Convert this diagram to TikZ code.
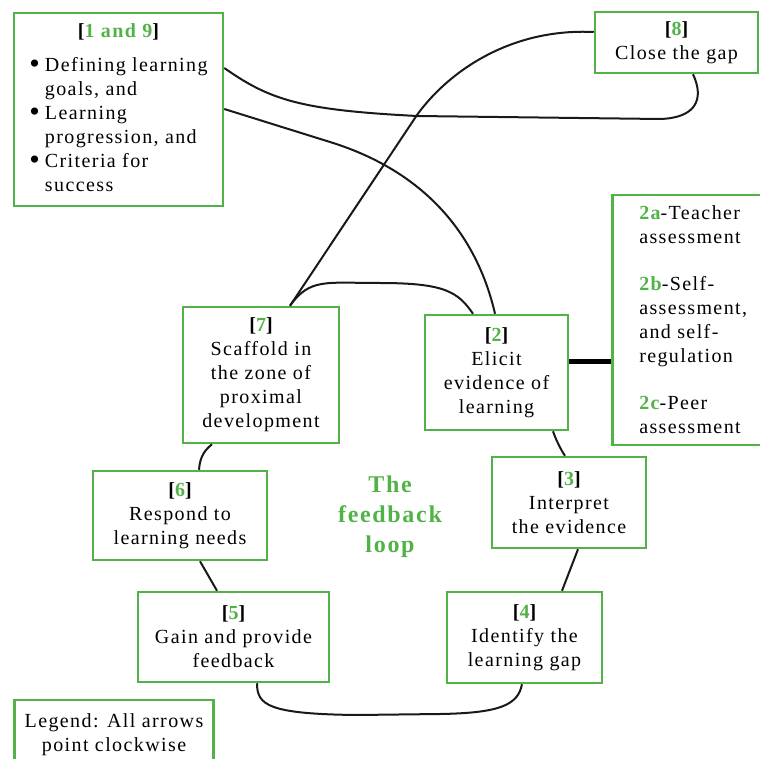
\documentclass[tikz,border=0pt]{standalone}
\usepackage{fontspec}
\setmainfont{Liberation Serif}[LetterSpace=7]
\definecolor{fbgreen}{RGB}{82,178,72}
\newcommand{\stepno}[1]{{\bfseries[\textcolor{fbgreen}{#1}]}}
\newcommand{\subno}[1]{\textcolor{fbgreen}{\bfseries #1}}
\newcommand{\bigbullet}{\raisebox{-2.5pt}{\fontsize{30}{24}\selectfont\textbullet}}

\begin{document}
\begin{tikzpicture}
  [x=1pt, y=-1pt,
   stage node/.style={draw=fbgreen, line width=2.5pt, align=center, inner sep=0pt,
     font=\fontsize{20}{24}\selectfont},
   loop line/.style={line width=2pt, black!90}]
  \useasboundingbox (0,0) rectangle (760,759);
  \clip (0,0) rectangle (760,759);

  \node[stage node, minimum width=209pt, minimum height=193pt] (n19) at (118.5,109.5)
    {\begin{tabular}{@{}l@{\hspace{5pt}}l@{}}
       \multicolumn{2}{c}{\stepno{1 and 9}}\\[10pt]
       \bigbullet & Defining learning\\
                  & goals, and\\
       \bigbullet & Learning\\
                  & progression, and\\
       \bigbullet & Criteria for\\
                  & success
     \end{tabular}};
  \node[stage node, minimum width=163pt, minimum height=61pt] (n8) at (676.5,42.5)
    {\stepno{8}\\Close the gap};
  \node[stage node, anchor=west, minimum height=250pt, inner xsep=27pt, align=left] (n2abc) at (611,320)
    {\subno{2a}-Teacher\\assessment\\[23pt]
     \subno{2b}-Self-\\assessment,\\and self-\\regulation\\[23pt]
     \subno{2c}-Peer\\assessment};
  \node[stage node, minimum width=156pt, minimum height=136pt] (n7) at (261,375)
    {\stepno{7}\\Scaffold in\\the zone of\\proximal\\development};
  \node[stage node, minimum width=143pt, minimum height=115pt] (n2) at (496.5,372.5)
    {\stepno{2}\\Elicit\\evidence of\\learning};
  \node[stage node, minimum width=154pt, minimum height=91pt] (n3) at (569,502.5)
    {\stepno{3}\\Interpret\\the evidence};
  \node[stage node, minimum width=155pt, minimum height=91pt] (n4) at (524.5,637.5)
    {\stepno{4}\\Identify the\\learning gap};
  \node[stage node, minimum width=191pt, minimum height=90pt] (n5) at (233.5,637)
    {\stepno{5}\\Gain and provide\\feedback};
  \node[stage node, minimum width=174pt, minimum height=89pt] (n6) at (180,515.5)
    {\stepno{6}\\Respond to\\learning needs};
  \node[align=center, text=fbgreen, font=\fontsize{24}{30}\selectfont\bfseries] (title) at (390,517)
    {The\\feedback\\loop};
  \node[stage node, minimum width=199pt, minimum height=70pt] (legend) at (114,735)
    {Legend: All arrows\\point clockwise};

  % connectors
  \draw[loop line] (n19.east |- 0,68) .. controls (270,100) and (300,110) .. (417,116)
    -- (660,119) .. controls (695,118) and (705,100) .. (n8.south -| 693,0);
  \draw[loop line] (n19.east |- 0,109) -- (330,142)
    .. controls (430,173) and (478,240) .. (n2.north -| 495,0);
  \draw[loop line] (n7.north -| 290,0) -- (417,115)
    .. controls (448,72) and (510,28) .. (n8.west |- 0,32);
  \draw[loop line] (n7.north -| 290,0) .. controls (310,278) and (325,283) .. (380,283)
    .. controls (445,283) and (458,292) .. (n2.north -| 473,0);
  \draw[loop line] (n2.south -| 553,0) .. controls (556,440) and (561,450) .. (n3.north -| 565,0);
  \draw[loop line] (n3.south -| 578,0) -- (n4.north -| 562,0);
  \draw[loop line] (n4.south -| 522,0) .. controls (518,705) and (500,713) .. (440,714)
    -- (357,715) .. controls (268,714) and (257,705) .. (n5.south -| 257,0);
  \draw[loop line] (n5.north -| 217,0) -- (n6.south -| 200,0);
  \draw[loop line] (n6.north -| 199,0) .. controls (200,456) and (205,450) .. (n7.south -| 212,0);
  \draw[line width=5pt] (n2.east |- 0,361) -- (n2abc.west |- 0,361);
\end{tikzpicture}
\end{document}
